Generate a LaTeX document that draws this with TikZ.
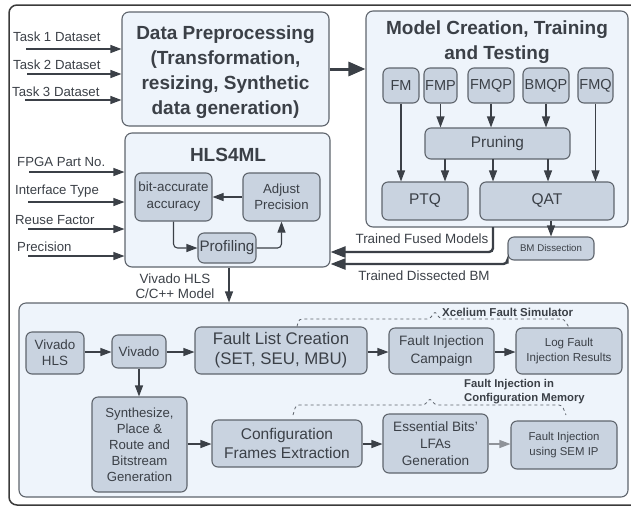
\documentclass[tikz,border=0pt]{standalone}
\usepackage{fontspec}
\setmainfont{Liberation Sans}
\usetikzlibrary{arrows.meta,calc}
\definecolor{bigfill}{HTML}{EEF4FB}
\definecolor{boxfill}{HTML}{C9D3E0}
\definecolor{edge}{HTML}{5F656D}
\definecolor{ink}{HTML}{3B4047}
\definecolor{framec}{HTML}{3A3A3A}
\tikzset{
 big/.style={draw=edge, fill=bigfill, rounded corners=7pt, line width=1.1pt, inner sep=0pt},
 box/.style={draw=edge, fill=boxfill, rounded corners=6pt, line width=1.1pt, align=center, text=ink, inner sep=0pt},
 arr/.style={draw=ink, line width=1.1pt, rounded corners=4pt, -{Triangle[length=11pt,width=8pt]}},
 thickarr/.style={draw=ink, line width=3pt, -{Triangle[length=17pt,width=14pt]}},
 medarr/.style={draw=ink, line width=2.4pt, rounded corners=4pt, -{Triangle[length=15pt,width=11pt]}},
 lbl/.style={text=ink, inner sep=0pt},
 brace/.style={draw=edge, dashed, line width=0.8pt, rounded corners=3pt},
}
\newcommand{\fsz}[2]{\fontsize{#1}{#2}\selectfont}
\begin{document}
\begin{tikzpicture}[x=1pt,y=-1pt]
\useasboundingbox (0,0) rectangle (631,507);
\clip (0,0) rectangle (631,507);
% outer frame
\draw[framec, line width=1.5pt, rounded corners=8pt] (9,5) rectangle (650,505);

% big containers
\node[big, minimum width=207pt, minimum height=114pt] (dp) at (225.5,69) {};
\node[lbl, align=center, font=\fsz{19}{25}\bfseries] (dpt) at (225.5,72) {Data Preprocessing\\(Transformation,\\resizing, Synthetic\\data generation)};
\node[big, minimum width=262pt, minimum height=216pt] (mc) at (497,119) {};
\node[lbl, align=center, font=\fsz{19}{25}\bfseries] (mct) at (497,42.5) {Model Creation, Training\\and Testing};
\node[big, minimum width=205pt, minimum height=134pt] (hls) at (227.5,200) {};
\node[lbl, font=\fsz{19}{25}\bfseries] (hlst) at (228,155) {HLS4ML};
\node[big, minimum width=609pt, minimum height=194pt] (low) at (323.5,400) {};

% model boxes
\node[box, minimum width=36pt, minimum height=35pt, font=\fsz{14.5}{17}] (fm) at (401,85.5) {FM};
\node[box, minimum width=33pt, minimum height=35pt, font=\fsz{14.5}{17}] (fmp) at (440.5,85.5) {FMP};
\node[box, minimum width=46pt, minimum height=35pt, font=\fsz{14.5}{17}] (fmqp) at (491,85.5) {FMQP};
\node[box, minimum width=46pt, minimum height=35pt, font=\fsz{14.5}{17}] (bmqp) at (546,85.5) {BMQP};
\node[box, minimum width=35pt, minimum height=35pt, font=\fsz{14.5}{17}] (fmq) at (595.5,85.5) {FMQ};
\node[box, minimum width=145pt, minimum height=31pt, font=\fsz{15.4}{18}] (pru) at (497.5,143.5) {Pruning};
\node[box, minimum width=86pt, minimum height=38pt, font=\fsz{15.5}{18}] (ptq) at (425,201) {PTQ};
\node[box, minimum width=134pt, minimum height=38pt, font=\fsz{15.5}{18}] (qat) at (547,201) {QAT};
\node[box, minimum width=86pt, minimum height=23pt, font=\fsz{9.7}{12}] (bmd) at (551,248.5) {BM Dissection};

\draw[arr] (fm.south) -- (fm.south |- ptq.north);
\draw[arr] (fmp.south) -- (fmp.south |- pru.north);
\draw[arr] (fmqp.south) -- (fmqp.south |- pru.north);
\draw[arr] (bmqp.south) -- (bmqp.south |- pru.north);
\draw[arr] (fmq.south) -- (fmq.south |- qat.north);
\coordinate (p1) at (445,159);
\coordinate (p2) at (493,159);
\coordinate (p3) at (548,159);
\draw[arr] (p1) -- (p1 |- ptq.north);
\draw[arr] (p2) -- (p2 |- qat.north);
\draw[arr] (p3) -- (p3 |- qat.north);
\draw[arr] (qat.south -| bmd.north) -- (bmd.north);

% data -> model
\draw[thickarr] (dp.east) -- (dp.east -| mc.west);

% dataset inputs
\node[lbl, anchor=west, font=\fsz{13.2}{16}] (t1) at (13,37) {Task 1 Dataset};
\node[lbl, anchor=west, font=\fsz{13.2}{16}] (t2) at (13,65) {Task 2 Dataset};
\node[lbl, anchor=west, font=\fsz{13.2}{16}] (t3) at (12,92) {Task 3 Dataset};
\coordinate (t1s) at (26,49);
\coordinate (t2s) at (27,74);
\coordinate (t3s) at (25,100);
\draw[arr] (t1s) -- (t1s -| dp.west);
\draw[arr] (t2s) -- (t2s -| dp.west);
\draw[arr] (t3s) -- (t3s -| dp.west);

% HLS4ML inputs
\node[lbl, anchor=west, font=\fsz{13.2}{16}] (i1) at (17,162) {FPGA Part No.};
\node[lbl, anchor=west, font=\fsz{13.2}{16}] (i2) at (15,191) {Interface Type};
\node[lbl, anchor=west, font=\fsz{13.2}{16}] (i3) at (15,220) {Reuse Factor};
\node[lbl, anchor=west, font=\fsz{13.2}{16}] (i4) at (17,247) {Precision};
\coordinate (i1s) at (29,172);
\coordinate (i2s) at (28,202);
\coordinate (i3s) at (28,229);
\coordinate (i4s) at (28,256);
\draw[arr] (i1s) -- (i1s -| hls.west);
\draw[arr] (i2s) -- (i2s -| hls.west);
\draw[arr] (i3s) -- (i3s -| hls.west);
\draw[arr] (i4s) -- (i4s -| hls.west);

% HLS4ML inner
\node[box, minimum width=77pt, minimum height=48pt, font=\fsz{13.4}{17}] (bit) at (173.5,197) {bit-accurate\\accuracy};
\node[box, minimum width=77pt, minimum height=48pt, font=\fsz{13.2}{16}] (adj) at (281.5,197) {Adjust\\Precision};
\node[box, minimum width=58pt, minimum height=30pt, font=\fsz{15.2}{18}] (prof) at (227,248) {Profiling};
\draw[arr] (adj.west) -- (bit.east);
\draw[arr] (bit.south) |- (prof.west);
\draw[arr] (prof.east) -| (adj.south);

% trained models back to HLS4ML
\coordinate (tfm) at (493,227);
\draw[medarr] (tfm) |- (hls.east |- 0,252);
\node[lbl, font=\fsz{13.4}{16}] (tfml) at (422,239) {Trained Fused Models};
\draw[medarr] ([yshift=-3pt]bmd.south west) |- (hls.east |- 0,264);
\node[lbl, font=\fsz{13.4}{16}] (tdbl) at (424,276) {Trained Dissected BM};

% HLS -> lower
\draw[arr] (hls.south -| 229,0) -- (low.north -| 229,0);
\node[lbl, align=center, font=\fsz{13.4}{14.5}] (vhl) at (175,286) {Vivado HLS\\C/C++ Model};

% lower flow
\node[box, minimum width=58pt, minimum height=42pt, font=\fsz{13.4}{16}] (vhls) at (55,353) {Vivado\\HLS};
\node[box, minimum width=54pt, minimum height=33pt, font=\fsz{13.4}{16}] (viv) at (139,351.5) {Vivado};
\node[box, minimum width=172pt, minimum height=47pt, font=\fsz{16.8}{20}] (flc) at (281,350.5) {Fault List Creation\\(SET, SEU, MBU)};
\node[box, minimum width=105pt, minimum height=46pt, font=\fsz{13.6}{18}] (fic) at (441.5,351) {Fault Injection\\Campaign};
\node[box, minimum width=106pt, minimum height=46pt, font=\fsz{11.6}{15}] (log) at (569,351) {Log Fault\\Injection Results};
\node[box, minimum width=95pt, minimum height=95pt, font=\fsz{13.2}{16}] (syn) at (139.5,444.5) {Synthesize,\\Place \&\\Route and\\Bitstream\\Generation};
\node[box, minimum width=150pt, minimum height=47pt, font=\fsz{15.5}{19}] (cfe) at (287,443.5) {Configuration\\Frames Extraction};
\node[box, minimum width=105pt, minimum height=59pt, font=\fsz{13.6}{17}] (ebl) at (435.5,443.5) {Essential Bits'\\LFAs\\Generation};
\node[box, minimum width=106pt, minimum height=48pt, font=\fsz{11.4}{15}] (sem) at (564,445) {Fault Injection\\using SEM IP};

\draw[arr] (vhls.east |- 0,352) -- (viv.west |- 0,352);
\draw[arr] (viv.east |- 0,352) -- (flc.west |- 0,352);
\draw[arr] (flc.east |- 0,352) -- (fic.west |- 0,352);
\draw[arr] (fic.east |- 0,352) -- (log.west |- 0,352);
\draw[arr] (viv.south) -- (viv.south |- syn.north);
\draw[arr] (syn.east |- 0,444) -- (cfe.west |- 0,444);
\draw[arr] (cfe.east |- 0,444) -- (ebl.west |- 0,444);
\draw[arr, draw=edge!70] (ebl.east |- 0,444) -- (sem.west |- 0,444);

% dashed braces
\draw[brace] (flc.north -| 297,0) -- (299,319) -- (430,319) -- (435,311) -- (440,319) -- (564,319) -- (log.north -| 569,0);
\node[lbl, anchor=west, font=\fsz{11.5}{14}\bfseries] (xcl) at (442,312) {Xcelium Fault Simulator};
\draw[brace] (293,415) -- (296,405) -- (425,405) -- (430,398) -- (435,405) -- (562,405) -- (566,415);
\node[lbl, anchor=west, align=left, font=\fsz{11.3}{14}\bfseries] (fcm) at (464,392) {Fault Injection in\\Configuration Memory};
\end{tikzpicture}
\end{document}
